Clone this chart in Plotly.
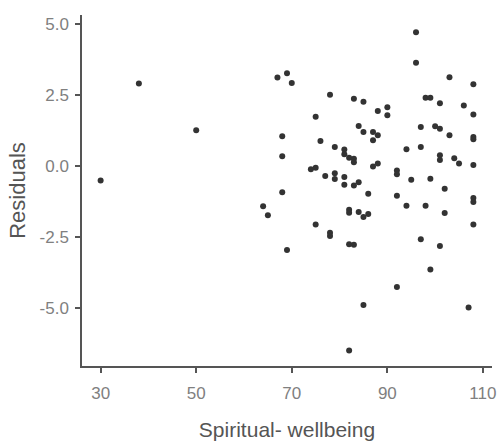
import plotly.graph_objects as go

# Data
spiritual_wellbeing = [
    30, 38, 50, 64, 65, 67, 68, 68, 68, 69, 69, 70, 74, 75, 75, 75, 76, 77, 78, 78,
    78, 79, 79, 79, 81, 81, 81, 81, 82, 83, 83, 82, 82, 82, 82, 83, 83, 83, 84, 84,
    84, 85, 85, 85, 85, 86, 86, 87, 88, 87, 87, 88, 88, 90, 90, 92, 92, 92, 92, 94,
    94, 95, 96, 96, 97, 97, 97, 98, 98, 99, 99, 99, 100, 101, 101, 101, 101, 101, 102, 102,
    103, 103, 104, 105, 106, 107, 108, 108, 108, 108, 108, 108, 108, 108,
]
residuals = [
    -0.52, 2.90, 1.25, -1.43, -1.75, 3.11, 1.04, 0.33, -0.94, 3.26, -2.97, 2.91, -0.13, -0.07, 1.72, -2.07, 0.87, -0.36, 2.50, -2.36,
    -2.48, 0.66, -0.27, -0.47, 0.57, 0.40, -0.40, -0.67, 0.28, 0.24, 0.12, -1.55, -1.66, -2.77, -6.51, -2.79, 2.36, -0.70, -0.58, 1.40,
    -1.63, 2.25, 1.19, -1.81, -4.91, -0.99, -1.70, 1.19, 1.07, 0.90, -0.03, 0.08, 1.93, 2.06, 1.78, -0.17, -0.30, -1.06, -4.28, 0.58,
    -1.41, -0.50, 4.70, 3.63, 1.36, 0.66, -2.59, 2.39, -1.41, 2.39, -0.46, -3.66, 1.39, 1.30, 2.20, 0.37, 0.20, -2.83, -0.81, -1.67,
    3.12, 1.07, 0.26, 0.08, 2.12, -5.00, 2.87, 1.80, 1.01, 0.93, 0.02, -1.14, -1.28, -2.07,
]
x_ticks = [30, 50, 70, 90, 110]
x_tick_labels = ["30", "50", "70", "90", "110"]
y_ticks = [5.0, 2.5, 0.0, -2.5, -5.0]
y_tick_labels = ["5.0", "2.5", "0.0", "-2.5", "-5.0"]

axis_col = "#555555"
tick_font = dict(family="Liberation Sans, Arial, sans-serif", size=17, color="#808080")
xtitle_font = dict(family="Liberation Sans, Arial, sans-serif", size=21, color="#555555")
ytitle_font = dict(family="Liberation Sans, Arial, sans-serif", size=22, color="#555555")

fig = go.Figure(
    go.Scatter(
        x=spiritual_wellbeing,
        y=residuals,
        mode="markers",
        marker=dict(color="#333333", size=6, line=dict(width=0)),
        hoverinfo="x+y",
    )
)

fig.update_layout(
    width=501,
    height=443,
    margin=dict(l=82, r=5, t=15, b=76),
    paper_bgcolor="white",
    plot_bgcolor="white",
    showlegend=False,
)
fig.update_xaxes(
    range=[26.1, 111.9],
    tickvals=x_ticks,
    ticktext=x_tick_labels,
    showgrid=False,
    zeroline=False,
    showline=True,
    linecolor=axis_col,
    linewidth=1.5,
    ticks="outside",
    ticklen=5,
    tickwidth=1.5,
    tickcolor=axis_col,
    tickfont=tick_font,
    ticklabelstandoff=6,
    title=dict(text="Spiritual- wellbeing", font=xtitle_font, standoff=20),
)
fig.update_yaxes(
    range=[-7.06, 5.31],
    tickvals=y_ticks,
    ticktext=y_tick_labels,
    showgrid=False,
    zeroline=False,
    showline=True,
    linecolor=axis_col,
    linewidth=1.5,
    ticks="outside",
    ticklen=5,
    tickwidth=1.5,
    tickcolor=axis_col,
    tickfont=tick_font,
    ticklabelstandoff=3,
    title=dict(text="Residuals", font=ytitle_font, standoff=8),
)

fig.write_html("out.html")
